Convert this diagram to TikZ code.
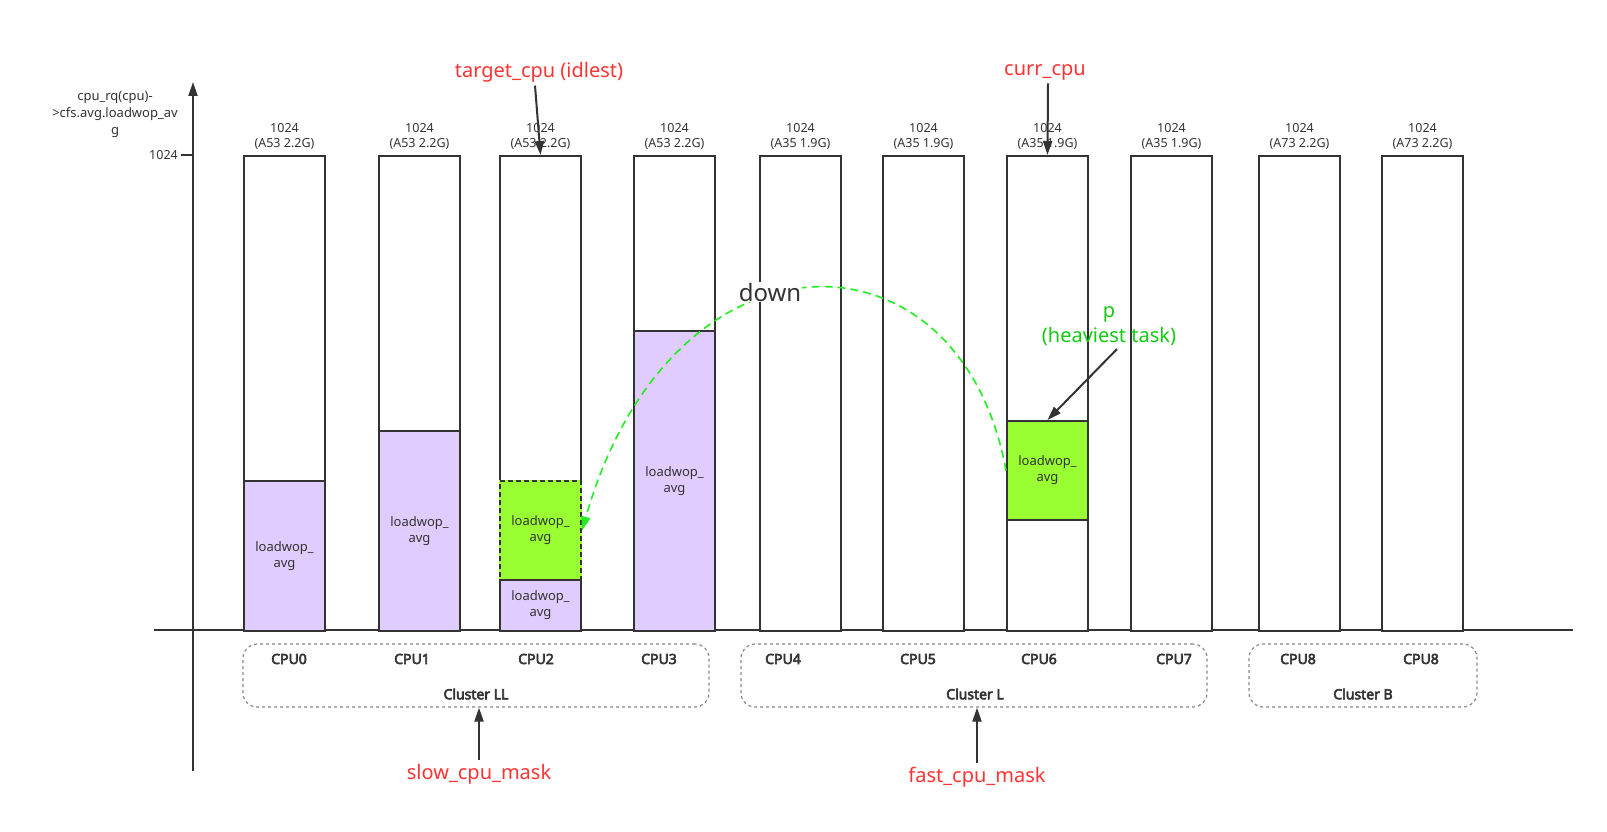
\documentclass[tikz,border=0pt]{standalone}
\usepackage{fontspec}
\setmainfont{Noto Sans}
\newfontfamily\cpufont{Noto Sans}[FakeBold=4]
\usetikzlibrary{positioning,arrows.meta}
\definecolor{inkgray}{HTML}{333333}
\definecolor{loadpurple}{HTML}{E1CCFF}
\definecolor{taskgreen}{HTML}{99FF33}
\definecolor{movegreen}{HTML}{22EE22}
\definecolor{notered}{HTML}{FF3333}
\definecolor{notegreen}{HTML}{11CC11}
\definecolor{clustergray}{HTML}{888888}

\begin{document}
\begin{tikzpicture}[x=1pt,y=-1pt]
\tikzset{cpubar/.style={draw=inkgray,line width=2pt,fill=white,minimum width=81pt,minimum height=475pt,inner sep=0pt,anchor=north west}}
\tikzset{loadbox/.style={draw=inkgray,line width=2pt,fill=loadpurple,minimum width=81pt,inner sep=0pt,anchor=south,align=center,text=inkgray,font=\fontsize{13}{16}\selectfont}}
\tikzset{taskbox/.style={loadbox,fill=taskgreen,minimum height=99pt}}
\tikzset{caplbl/.style={align=center,inner sep=0pt,text=inkgray,font=\fontsize{12.5}{15}\selectfont}}
\tikzset{cpulbl/.style={text=inkgray,font=\cpufont\fontsize{14}{16}\selectfont}}
\tikzset{cluster/.style={draw=clustergray,dashed,line width=1.2pt,rounded corners=14pt,minimum height=63pt}}
\tikzset{ptr/.style={draw=inkgray,line width=2pt,-{Triangle[length=14pt,width=9pt]}}}
\tikzset{redlbl/.style={text=notered,font=\fontsize{20}{24}\selectfont}}

\useasboundingbox (0,0) rectangle (1607,832);

% axes
\coordinate (ybot) at (193,771);
\coordinate (ytop) at (193,82);
\coordinate (xleft) at (154,630);
\coordinate (xright) at (1573,630);
\coordinate (tick) at (181,155);
\draw[ptr] (ybot) -- (ytop);
\draw[inkgray,line width=2pt] (xleft) -- (xright);
\draw[inkgray,line width=2pt] (tick) -- (tick -| ybot);
\node[caplbl,left=3pt of tick] (ticklbl) {1024};
\node[caplbl,font=\fontsize{13}{17}\selectfont] (ylbl) at (115,114) {cpu\_rq(cpu)-\\>cfs.avg.loadwop\_av\\g};

% cpu bars
\foreach \x/\n/\core in {243/0/A53 2.2G,378/1/A53 2.2G,499/2/A53 2.2G,633/3/A53 2.2G,759/4/A35 1.9G,882/5/A35 1.9G,1006/6/A35 1.9G,1130/7/A35 1.9G,1258/8/A73 2.2G,1381/9/A73 2.2G}{
  \node[cpubar] (bar\n) at (\x,155) {};
  \node[caplbl,above=5pt of bar\n.north] (cap\n) {1024\\(\core)};
}

% loads
\node[loadbox,minimum height=150pt] (load0) at (bar0.south) {loadwop\_\\avg};
\node[loadbox,minimum height=200pt] (load1) at (bar1.south) {loadwop\_\\avg};
\node[taskbox,dash pattern=on 5pt off 3pt,preaction={draw=taskgreen,solid,line width=2.6pt}] (task2) at ([yshift=51pt]bar2.south) {loadwop\_\\avg};
\node[loadbox,minimum height=51pt] (load2) at (bar2.south) {loadwop\_\\avg};
\node[loadbox,minimum height=300pt] (load3) at (bar3.south) {loadwop\_\\avg};
\node[taskbox] (task6) at ([yshift=111pt]bar6.south) {loadwop\_\\avg};

% cpu names
\foreach \x/\n/\name in {289/0/CPU0,412/1/CPU1,536/2/CPU2,659/3/CPU3,783/4/CPU4,918/5/CPU5,1039/6/CPU6,1174/7/CPU7,1298/8/CPU8,1421/9/CPU8}
  \node[cpulbl] (name\n) at (\x,659) {\name};

% clusters
\node[cluster,minimum width=466pt] (clusterLL) at (476,675.5) {};
\node[cluster,minimum width=466pt] (clusterL) at (974,675.5) {};
\node[cluster,minimum width=228pt] (clusterB) at (1363,675.5) {};
\node[cpulbl] (clusterLLlbl) at (476,694) {Cluster LL};
\node[cpulbl] (clusterLlbl) at (975,694) {Cluster L};
\node[cpulbl] (clusterBlbl) at (1363,694) {Cluster B};

% notes
\node[redlbl] (slowlbl) at (479,774) {slow\_cpu\_mask};
\draw[ptr] (slowlbl.north) -- (slowlbl.north |- clusterLL.south);
\node[redlbl] (fastlbl) at (977,777) {fast\_cpu\_mask};
\draw[ptr] (fastlbl.north) -- (fastlbl.north |- clusterL.south);
\node[redlbl] (targetlbl) at (539,72) {target\_cpu (idlest)};
\draw[ptr] ([xshift=-4pt]targetlbl.south) -- (bar2.north);
\node[redlbl] (currlbl) at (1045,72) {curr\_cpu};
\draw[ptr] ([xshift=3pt]currlbl.south) -- (bar6.north);

% migration
\draw[movegreen,line width=1.6pt,dash pattern=on 8pt off 5pt,-{Triangle[length=14pt,width=9pt]}] (task6.west) .. controls (960,218) and (671,218) .. (task2.east);
\node[text=inkgray,fill=white,inner sep=1pt,font=\fontsize{24}{28}\selectfont] (downlbl) at (770,292) {down};
\node[text=notegreen,align=center,font=\fontsize{20}{25}\selectfont] (plbl) at (1109,326) {p\\(heaviest task)};
\draw[ptr] ([xshift=8pt]plbl.south) -- (task6.north);
\end{tikzpicture}
\end{document}
